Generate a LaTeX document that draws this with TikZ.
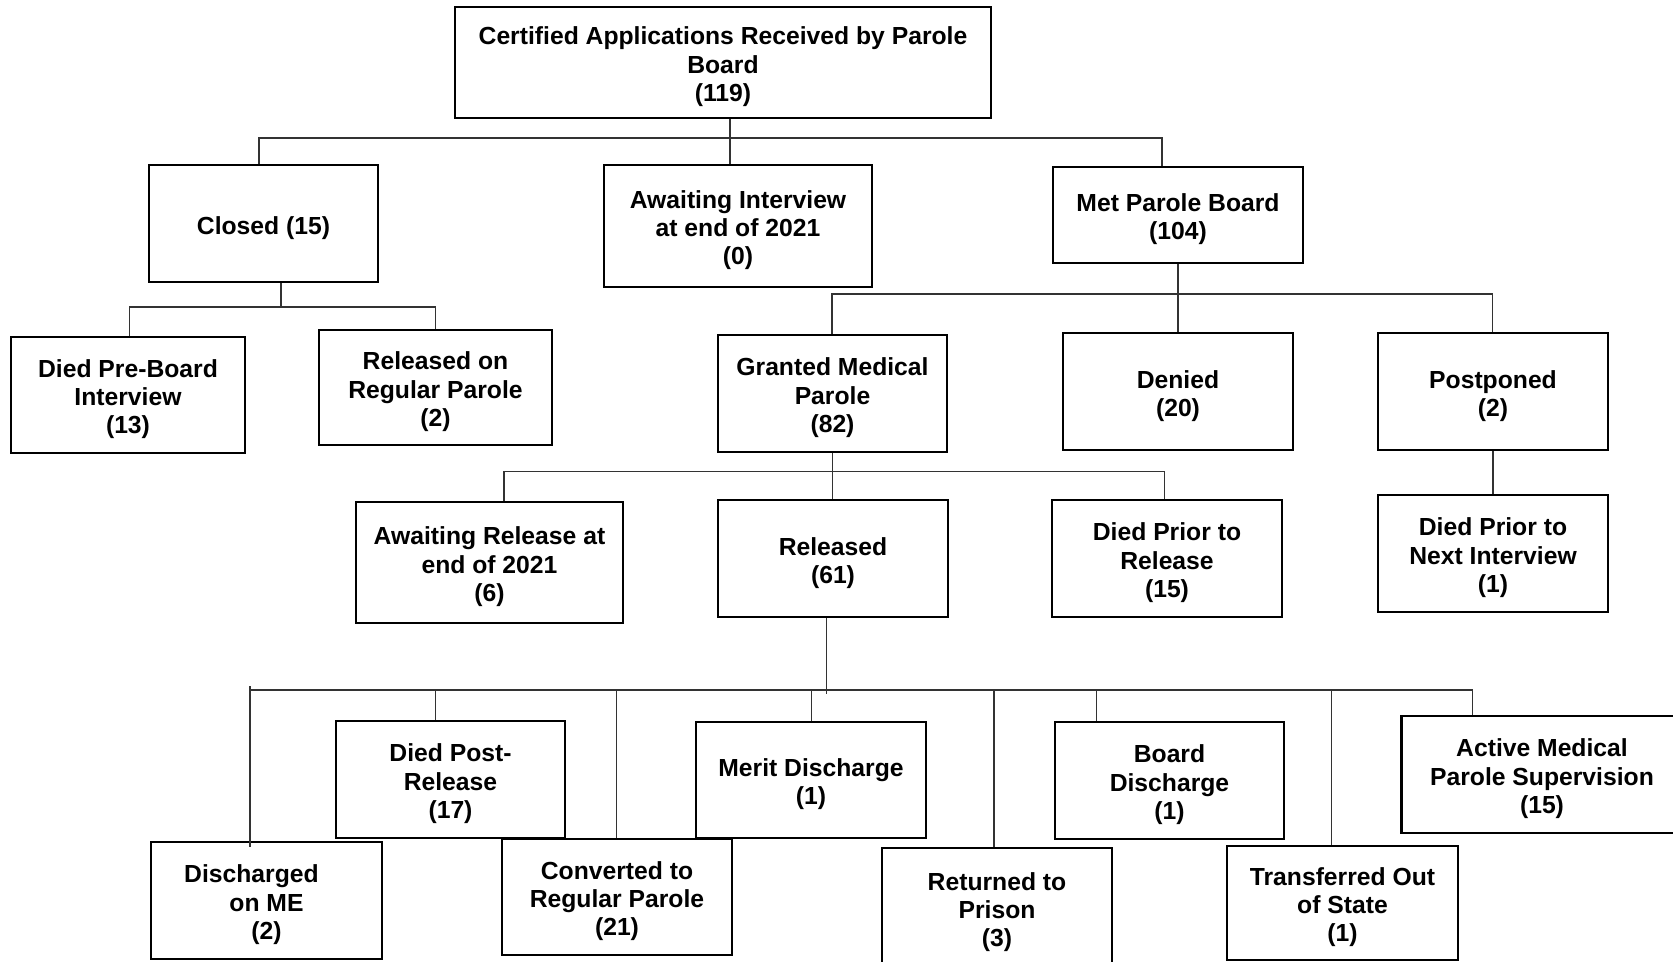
\documentclass[tikz,border=0pt]{standalone}
\usepackage{fontspec}
\setmainfont{Liberation Sans}
\newcommand\fstrut{\rule{0pt}{26.5pt}}
\begin{document}
\begin{tikzpicture}[x=1pt,y=-1pt,
  box/.style={draw=black,line width=2.4pt,align=center,inner sep=0pt,
    font=\bfseries\fontsize{24.7}{28.3}\selectfont},
  conn/.style={draw=black!80,line width=1.3pt}]
\useasboundingbox (0,0) rectangle (1673,961);
\fill[white] (0,0) rectangle (1673,961);

% level 0
\node[box,minimum width=536,minimum height=111] (top) at (723,62.5) {\fstrut Certified Applications Received by Parole\\Board\\(119)};
% level 1
\node[box,minimum width=229,minimum height=117] (closed) at (263.5,223.5) {\fstrut Closed (15)};
\node[box,minimum width=268,minimum height=122] (awaitint) at (738,226) {\fstrut Awaiting Interview\\at end of 2021\\(0)};
\node[box,minimum width=250,minimum height=96] (met) at (1178,215) {\fstrut Met Parole Board\\(104)};
% level 2
\node[box,minimum width=234,minimum height=116] (diedpre) at (128,395) {\fstrut Died Pre-Board\\Interview\\(13)};
\node[box,minimum width=233,minimum height=115] (relreg) at (435.5,387.5) {\fstrut Released on\\Regular Parole\\(2)};
\node[box,minimum width=229,minimum height=117] (granted) at (832.5,393.5) {\fstrut Granted Medical\\Parole\\(82)};
\node[box,minimum width=230,minimum height=117] (denied) at (1178,391.5) {\fstrut Denied\\(20)};
\node[box,minimum width=230,minimum height=117] (postponed) at (1493,391.5) {\fstrut Postponed\\(2)};
% level 3
\node[box,minimum width=267,minimum height=121] (awaitrel) at (489.5,562.5) {\fstrut Awaiting Release at\\end of 2021\\(6)};
\node[box,minimum width=230,minimum height=117] (released) at (833,558.5) {\fstrut Released\\(61)};
\node[box,minimum width=230,minimum height=117] (diedprior) at (1167,558.5) {\fstrut Died Prior to\\Release\\(15)};
\node[box,minimum width=230,minimum height=117] (diednext) at (1493,553.5) {\fstrut Died Prior to\\Next Interview\\(1)};
% level 4
\node[box,minimum width=229,minimum height=117] (diedpost) at (450.5,779.5) {\fstrut Died Post-\\Release\\(17)};
\node[box,minimum width=230,minimum height=116] (merit) at (811,780) {\fstrut Merit Discharge\\(1)};
\node[box,minimum width=229,minimum height=117] (boarddis) at (1169.5,780.5) {\fstrut Board\\Discharge\\(1)};
\node[box,minimum width=281,minimum height=117] (active) at (1542,774.5) {\fstrut Active Medical\\Parole Supervision\\(15)};
\node[box,minimum width=231,minimum height=117] (dischME) at (266.5,900.5) {\fstrut Discharged\hspace*{30pt}\\on ME\\(2)};
\node[box,minimum width=230,minimum height=116] (converted) at (617,897) {\fstrut Converted to\\Regular Parole\\(21)};
\node[box,minimum width=230,minimum height=120] (returned) at (997,908) {\fstrut Returned to\\Prison\\(3)};
\node[box,minimum width=231,minimum height=114] (transferred) at (1342.5,903) {\fstrut Transferred Out\\of State\\(1)};

% bus levels
\coordinate (b1) at (0,138);
\coordinate (b2) at (0,307);
\coordinate (b3) at (0,294);
\coordinate (b4) at (0,471.7);
\coordinate (b5) at (0,690);
\coordinate (b5a) at (0,686);

% top -> level 1
\draw[conn] ([xshift=-4.5]closed.north) |- ([xshift=-16]met.north |- b1) -- ([xshift=-16]met.north);
\draw[conn] ([xshift=7]top.south) -- ([xshift=-8]awaitint.north);

% closed -> level 2
\draw[conn] ([xshift=17.5]closed.south) -- ([xshift=17.5]closed.south |- b2);
\draw[conn] ([xshift=1.5]diedpre.north) |- (relreg.north |- b2) -- (relreg.north);

% met -> level 2
\draw[conn] (met.south) -- (denied.north);
\draw[conn] ([xshift=-0.5]granted.north) |- ([xshift=-0.5]postponed.north |- b3) -- ([xshift=-0.5]postponed.north);
\draw[conn] (postponed.south) -- (diednext.north);

% granted -> level 3
\draw[conn] (granted.south) -- (granted.south |- released.north);
\draw[conn] ([xshift=14.5]awaitrel.north) |- ([xshift=-2.5]diedprior.north |- b4) -- ([xshift=-2.5]diedprior.north);

% released -> level 4
\draw[conn] ([xshift=-6.5]released.south) -- ([xshift=-6.5,yshift=-4]released.south |- b5);
\draw[conn] ([xshift=-16.5]dischME.north |- b5) -- ([xshift=-69.5]active.north |- b5) -- ([xshift=-69.5]active.north);
\draw[conn] ([xshift=-16.5]dischME.north |- b5a) -- ([xshift=-16.5,yshift=-6]dischME.north);
\foreach \n/\s in {diedpost/-15, converted/-0.5, merit/0.5, returned/-3, boarddis/-72.8, transferred/-11}
  \draw[conn] ([xshift=\s]\n.north |- b5) -- ([xshift=\s]\n.north);
\end{tikzpicture}
\end{document}
